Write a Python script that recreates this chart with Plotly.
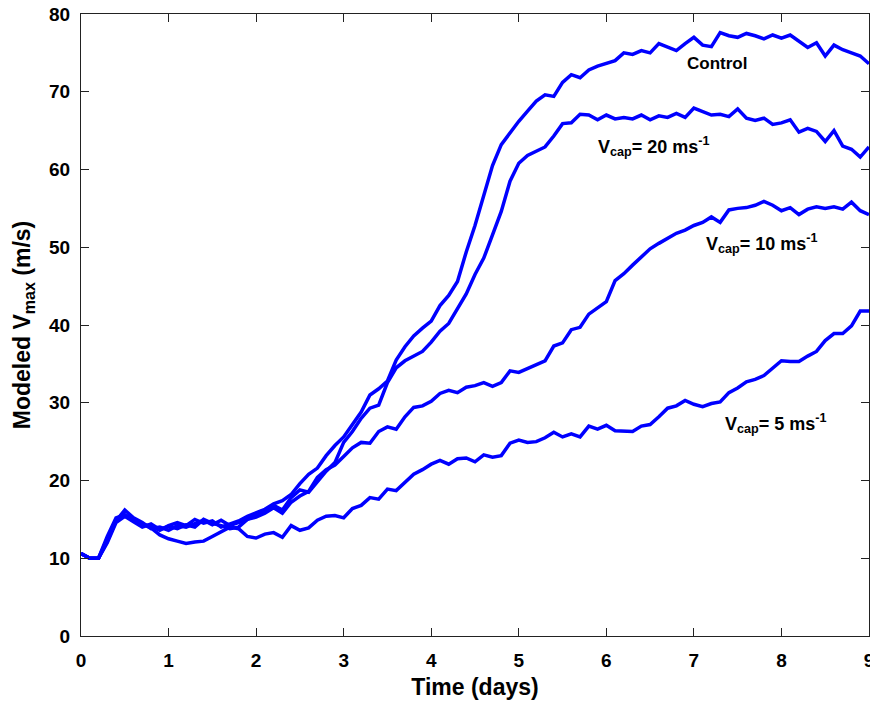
#!/usr/bin/env python3
"""
Modeled Vmax time series for the control run and the capped-wind runs.
"""

import plotly.graph_objects as go

# ---------------- Data ----------------
time_days = [round(0.1 * i, 1) for i in range(91)]

control = [
    10.6, 10.0, 10.0, 12.8, 15.2, 15.6, 15.0, 14.3, 14.2, 13.6,
    14.2, 14.6, 14.2, 15.0, 14.5, 14.8, 14.0, 14.4, 14.8, 15.4,
    15.8, 16.3, 17.0, 17.4, 18.2, 19.6, 20.8, 21.6, 23.2, 24.5,
    25.6, 27.2, 28.8, 31.0, 31.8, 32.8, 35.5, 37.2, 38.6, 39.6,
    40.5, 42.5, 43.8, 45.6, 49.4, 52.8, 56.8, 60.5, 63.2, 64.7,
    66.2, 67.5, 68.8, 69.6, 69.4, 71.2, 72.2, 71.8, 72.8, 73.3,
    73.6, 74.0, 75.0, 74.8, 75.3, 75.0, 76.2, 75.8, 75.3, 76.2,
    77.0, 76.0, 75.8, 77.6, 77.2, 77.0, 77.5, 77.2, 76.8, 77.3,
    76.9, 77.3, 76.5, 75.7, 76.3, 74.6, 76.0, 75.4, 75.0, 74.6,
    73.6,
]

vcap20 = [
    10.6, 10.0, 10.0, 12.2, 14.8, 16.2, 15.2, 14.6, 13.8, 14.0,
    13.6, 14.2, 14.0, 14.4, 14.9, 14.3, 14.9, 14.2, 14.6, 15.0,
    15.6, 16.0, 16.8, 16.2, 17.8, 18.8, 18.5, 19.8, 21.2, 22.3,
    24.9, 26.3, 28.0, 29.3, 29.7, 32.6, 34.5, 35.4, 36.0, 36.6,
    37.8, 39.2, 40.2, 42.2, 44.0, 46.5, 48.6, 51.6, 54.6, 58.5,
    60.8, 61.8, 62.4, 62.9, 64.3, 65.9, 66.0, 67.1, 67.0, 66.4,
    67.0, 66.5, 66.7, 66.5, 67.0, 66.4, 66.9, 66.7, 67.2, 66.7,
    67.9, 67.4, 67.0, 67.1, 66.8, 67.8, 66.6, 66.3, 66.6, 65.8,
    66.0, 66.4, 64.8, 65.3, 64.9, 63.6, 65.0, 63.0, 62.6, 61.6,
    62.9,
]

vcap10 = [
    10.6, 10.0, 10.0, 12.0, 14.6, 15.4, 14.7, 14.0, 14.4, 13.7,
    14.1, 13.8, 14.3, 14.0, 15.0, 14.5, 14.2, 13.8, 14.0, 15.0,
    15.3, 15.8, 16.5, 15.8, 17.2, 18.0, 18.6, 20.4, 21.4, 22.0,
    23.1, 24.2, 24.9, 24.8, 26.3, 26.9, 26.6, 28.2, 29.4, 29.6,
    30.2, 31.2, 31.6, 31.3, 32.0, 32.2, 32.6, 32.1, 32.6, 34.1,
    33.9, 34.4, 35.0, 35.4, 37.3, 37.7, 39.4, 39.7, 41.4, 42.2,
    43.0, 45.7, 46.6, 47.7, 48.8, 49.8, 50.5, 51.2, 51.8, 52.2,
    52.8, 53.2, 53.9, 53.2, 54.8, 55.0, 55.1, 55.4, 55.9, 55.4,
    54.7, 55.1, 54.2, 54.9, 55.2, 55.0, 55.2, 54.9, 55.8, 54.7,
    54.2,
]

vcap5 = [
    10.6, 10.0, 10.0, 12.5, 15.0, 15.5, 14.8, 14.4, 13.9, 13.0,
    12.5, 12.2, 11.9, 12.1, 12.2, 12.8, 13.4, 14.0, 13.8, 12.8,
    12.6, 13.1, 13.3, 12.7, 14.2, 13.6, 13.9, 14.9, 15.4, 15.5,
    15.2, 16.4, 16.8, 17.8, 17.6, 18.9, 18.7, 19.8, 20.8, 21.4,
    22.1, 22.6, 22.1, 22.8, 22.9, 22.4, 23.3, 23.0, 23.2, 24.8,
    25.2, 24.9, 25.0, 25.5, 26.2, 25.6, 26.0, 25.6, 27.0, 26.6,
    27.1, 26.4, 26.3, 26.3, 27.0, 27.2, 28.2, 29.3, 29.6, 30.3,
    29.8, 29.5, 29.9, 30.1, 31.3, 31.9, 32.7, 33.0, 33.5, 34.5,
    35.4, 35.3, 35.3, 36.0, 36.6, 38.0, 38.9, 38.9, 39.9, 41.8,
    41.8,
]

series_names = ['Control', 'Vcap = 20 m/s', 'Vcap = 10 m/s', 'Vcap = 5 m/s']

# curve labels: text, x (days), y (m/s)
labels = [
    ('Control', 7.26, 73.6),
    ('V<sub>cap</sub>= 20 ms<sup>-1</sup>', 5.88, 63.0),
    ('V<sub>cap</sub>= 10 ms<sup>-1</sup>', 7.12, 50.5),
    ('V<sub>cap</sub>= 5 ms<sup>-1</sup>', 7.33, 27.3),
]

FONT = 'Liberation Sans, Arial, sans-serif'

# ---------------- Figure ----------------
fig = go.Figure()
for name, vals in zip(series_names, [control, vcap20, vcap10, vcap5]):
    fig.add_trace(go.Scatter(
        x=time_days, y=vals, name=name, mode='lines',
        line=dict(color='#0000ff', width=3.5),
    ))

for i, (txt, lx, ly) in enumerate(labels):
    fig.add_annotation(
        x=lx, y=ly, text=txt, showarrow=False,
        xanchor='center' if i == 0 else 'left',
        font=dict(family=FONT, size=17 if i == 0 else 18, color='black', weight='bold'),
    )

axis_common = dict(
    showgrid=False, zeroline=False, automargin=False,
    showline=True, linecolor='#222', linewidth=1.2,
    mirror='ticks', ticks='inside', ticklen=8, tickcolor='#222', tickwidth=1.2,
    tickfont=dict(family=FONT, size=19, color='black', weight='bold'),
    ticklabeloverflow='allow',
)

fig.update_layout(
    width=870, height=701,
    margin=dict(l=81, r=1, t=14, b=65),
    paper_bgcolor='white', plot_bgcolor='white',
    showlegend=False,
    xaxis=dict(
        range=[0, 9], tickvals=list(range(10)),
        title=dict(text='Time (days)', standoff=8,
                   font=dict(family=FONT, size=23, color='black', weight='bold')),
        ticklabelstandoff=7,
        **axis_common,
    ),
    yaxis=dict(
        range=[0, 80], tickvals=list(range(0, 81, 10)),
        title=dict(text='Modeled V<sub>max</sub> (m/s)', standoff=11,
                   font=dict(family=FONT, size=23, color='black', weight='bold')),
        ticklabelstandoff=6,
        **axis_common,
    ),
)

# page margin off so the figure sits at the window's top-left corner
fig.write_html("out.html", config={'displayModeBar': False},
               post_script="document.body.style.margin='0';")
